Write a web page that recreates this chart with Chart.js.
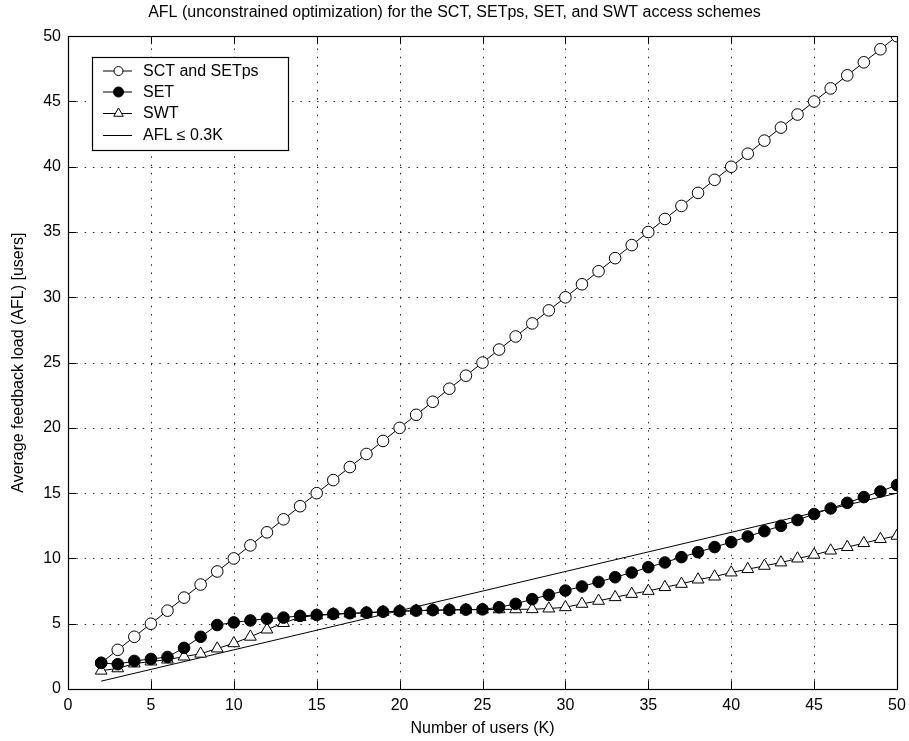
<!DOCTYPE html>
<html>
<head>
<meta charset="utf-8">
<script src="https://cdn.jsdelivr.net/npm/chart.js@4.4.1/dist/chart.umd.min.js"></script>
<style>
  html, body { margin: 0; padding: 0; background: #fff; }
  #wrap { width: 909px; height: 741px; }
</style>
</head>
<body>
<div id="wrap"><canvas id="c" width="909" height="741"></canvas></div>
<script>
// ---- Data ----
const titleText = "AFL (unconstrained optimization) for the SCT, SETps, SET, and SWT access schemes";
const xTitle = "Number of users (K)";
const yTitle = "Average feedback load (AFL) [users]";
const xTicks = [0, 5, 10, 15, 20, 25, 30, 35, 40, 45, 50];
const yTicks = [0, 5, 10, 15, 20, 25, 30, 35, 40, 45, 50];

const users = [2, 3, 4, 5, 6, 7, 8, 9, 10, 11, 12, 13, 14, 15, 16, 17, 18, 19, 20, 21, 22, 23, 24, 25, 26,
  27, 28, 29, 30, 31, 32, 33, 34, 35, 36, 37, 38, 39, 40, 41, 42, 43, 44, 45, 46, 47, 48, 49, 50];

const sctSetps = [2, 3, 4, 5, 6, 7, 8, 9, 10, 11, 12, 13, 14, 15, 16, 17, 18, 19, 20, 21, 22, 23, 24, 25, 26,
  27, 28, 29, 30, 31, 32, 33, 34, 35, 36, 37, 38, 39, 40, 41, 42, 43, 44, 45, 46, 47, 48, 49, 50];

const set = [2.0, 1.9, 2.15, 2.3, 2.45, 3.15, 4.0, 4.9, 5.1, 5.25, 5.38, 5.47, 5.6, 5.67, 5.75, 5.8, 5.85,
  5.92, 5.97, 6.0, 6.04, 6.06, 6.08, 6.1, 6.26, 6.52, 6.88, 7.21, 7.54, 7.85, 8.2, 8.56, 8.92, 9.33, 9.69,
  10.1, 10.48, 10.87, 11.25, 11.68, 12.09, 12.5, 12.94, 13.4, 13.83, 14.26, 14.7, 15.13, 15.62];

const swt = [1.4, 1.58, 1.95, 2.1, 2.25, 2.48, 2.7, 3.1, 3.5, 4.0, 4.55, 5.05, 5.5, 5.63, 5.72, 5.78, 5.83,
  5.9, 5.95, 6.0, 6.03, 6.05, 6.07, 6.08, 6.1, 6.1, 6.11, 6.16, 6.26, 6.52, 6.75, 7.03, 7.28, 7.51, 7.8,
  8.05, 8.38, 8.61, 8.92, 9.18, 9.43, 9.69, 9.99, 10.28, 10.6, 10.87, 11.17, 11.48, 11.73];

const boundUsers = [2, 50];
const boundAfl = [0.6, 15];

const seriesLabels = ["SCT and SETps", "SET", "SWT", "AFL \u2264 0.3K"];

// ---- Build ----
const FONT = "'Liberation Sans', Arial, Helvetica, sans-serif";
const toXY = (xs, ys) => xs.map((x, i) => ({ x: x, y: ys[i] }));

const datasets = [
  { label: seriesLabels[0], data: toXY(users, sctSetps), borderColor: '#000', borderWidth: 1,
    pointStyle: 'circle', pointRadius: 5.8, pointBackgroundColor: '#fff', pointBorderColor: '#000',
    pointBorderWidth: 1, order: 2, legendRadius: 4.5 },
  { label: seriesLabels[1], data: toXY(users, set), borderColor: '#000', borderWidth: 1,
    pointStyle: 'circle', pointRadius: 5.8, pointBackgroundColor: '#000', pointBorderColor: '#000',
    pointBorderWidth: 1, order: 0, legendRadius: 5 },
  { label: seriesLabels[2], data: toXY(users, swt), borderColor: '#000', borderWidth: 1,
    pointStyle: 'triangle', pointRadius: 6.8, pointBackgroundColor: '#fff', pointBorderColor: '#000',
    pointBorderWidth: 1, order: 1, legendRadius: 5.5 },
  { label: seriesLabels[3], data: toXY(boundUsers, boundAfl), borderColor: '#000', borderWidth: 1,
    pointRadius: 0, order: 3, legendRadius: 0 }
];
datasets.forEach(d => { d.showLine = true; d.tension = 0; d.fill = false; d.pointHoverRadius = d.pointRadius; });

const frame = {
  id: 'frame',
  beforeDatasetsDraw(chart) {
    const { ctx, chartArea: a, scales: { x, y } } = chart;
    ctx.save();
    ctx.strokeStyle = 'rgba(0,0,0,0.85)';
    ctx.lineWidth = 1;
    ctx.setLineDash([1.5, 6.8]);
    xTicks.forEach(v => {
      if (v === 0 || v === 50) return;
      const px = Math.round(x.getPixelForValue(v)) + 0.5;
      ctx.beginPath(); ctx.moveTo(px, a.bottom); ctx.lineTo(px, a.top); ctx.stroke();
    });
    yTicks.forEach(v => {
      if (v === 0 || v === 50) return;
      const py = Math.round(y.getPixelForValue(v)) + 0.5;
      ctx.beginPath(); ctx.moveTo(a.left, py); ctx.lineTo(a.right, py); ctx.stroke();
    });
    ctx.setLineDash([]);
    ctx.strokeStyle = '#000';
    const T = 8;
    xTicks.forEach(v => {
      const px = Math.round(x.getPixelForValue(v)) + 0.5;
      ctx.beginPath(); ctx.moveTo(px, a.bottom); ctx.lineTo(px, a.bottom - T); ctx.stroke();
      ctx.beginPath(); ctx.moveTo(px, a.top); ctx.lineTo(px, a.top + T); ctx.stroke();
    });
    yTicks.forEach(v => {
      const py = Math.round(y.getPixelForValue(v)) + 0.5;
      ctx.beginPath(); ctx.moveTo(a.left, py); ctx.lineTo(a.left + T, py); ctx.stroke();
      ctx.beginPath(); ctx.moveTo(a.right, py); ctx.lineTo(a.right - T, py); ctx.stroke();
    });
    ctx.restore();
  },
  afterDatasetsDraw(chart) {
    const { ctx, chartArea: a } = chart;
    ctx.save();
    ctx.strokeStyle = '#000';
    ctx.lineWidth = 1.2;
    ctx.strokeRect(Math.round(a.left) + 0.5, Math.round(a.top) + 0.5,
      Math.round(a.right - a.left), Math.round(a.bottom - a.top));
    ctx.restore();
  }
};

const insideLegend = {
  id: 'insideLegend',
  afterDraw(chart) {
    const { ctx } = chart;
    const bx = 92.5, by = 57.5, bw = 196, bh = 93;
    ctx.save();
    ctx.fillStyle = '#fff';
    ctx.fillRect(bx, by, bw, bh);
    ctx.strokeStyle = '#000';
    ctx.lineWidth = 1.2;
    ctx.strokeRect(bx, by, bw, bh);
    const rows = [71, 92, 113.5, 135.5];
    chart.data.datasets.forEach((d, i) => {
      const yy = rows[i];
      ctx.strokeStyle = '#000';
      ctx.lineWidth = 1;
      ctx.beginPath(); ctx.moveTo(103, yy); ctx.lineTo(132, yy); ctx.stroke();
      if (d.legendRadius > 0) {
        ctx.fillStyle = d.pointBackgroundColor;
        ctx.strokeStyle = '#000';
        ctx.beginPath();
        if (d.pointStyle === 'circle') {
          ctx.arc(118.5, yy, d.legendRadius, 0, Math.PI * 2);
        } else {
          const r = d.legendRadius;
          ctx.moveTo(118.5, yy - r);
          ctx.lineTo(118.5 + r * Math.sin(2 * Math.PI / 3), yy - r * Math.cos(2 * Math.PI / 3));
          ctx.lineTo(118.5 - r * Math.sin(2 * Math.PI / 3), yy - r * Math.cos(2 * Math.PI / 3));
          ctx.closePath();
        }
        ctx.fill(); ctx.stroke();
      }
      ctx.fillStyle = '#000';
      ctx.font = '16px ' + FONT;
      ctx.textBaseline = 'middle';
      ctx.textAlign = 'left';
      ctx.fillText(d.label, 143, yy + 0.5);
    });
    ctx.restore();
  }
};

new Chart(document.getElementById('c'), {
  type: 'scatter',
  data: { datasets: datasets },
  options: {
    responsive: false,
    animation: false,
    devicePixelRatio: 1,
    layout: { padding: { left: 0, right: 0, top: 0, bottom: 0 } },
    plugins: {
      legend: { display: false },
      tooltip: { enabled: false },
      title: {
        display: true, text: titleText, color: '#000',
        font: { family: FONT, size: 16, weight: 'normal' },
        padding: { top: 3, bottom: 14 }
      }
    },
    scales: {
      x: {
        type: 'linear', min: 0, max: 50,
        afterBuildTicks(s) { s.ticks = xTicks.map(v => ({ value: v })); },
        afterFit(s) { s.height = 52; s.paddingRight = 12; s.paddingLeft = 0; },
        grid: { display: false, drawTicks: false },
        border: { display: false },
        ticks: { color: '#000', padding: 7, font: { family: FONT, size: 16 }, maxRotation: 0 },
        title: { display: true, text: xTitle, color: '#000', font: { family: FONT, size: 16 },
          padding: { top: 0, bottom: 3 } }
      },
      y: {
        type: 'linear', min: 0, max: 50,
        afterBuildTicks(s) { s.ticks = yTicks.map(v => ({ value: v })); },
        afterFit(s) { s.width = 68; },
        grid: { display: false, drawTicks: false },
        border: { display: false },
        ticks: { color: '#000', padding: 7, font: { family: FONT, size: 16 } },
        title: { display: true, text: yTitle, color: '#000', font: { family: FONT, size: 16 },
          padding: { top: 9, bottom: 0 } }
      }
    }
  },
  plugins: [frame, insideLegend]
});
</script>
</body>
</html>
